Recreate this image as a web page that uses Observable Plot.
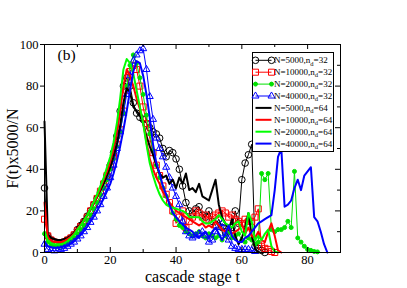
<!DOCTYPE html>
<html><head><meta charset="utf-8">
<script src="https://cdn.jsdelivr.net/npm/d3@7"></script>
<script src="https://cdn.jsdelivr.net/npm/@observablehq/plot@0.6"></script>
<style>
html,body{margin:0;padding:0;background:#fff;}
#wrap{position:relative;width:407px;height:288px;overflow:hidden;}
#wrap svg{display:block;}
</style></head><body><div id="wrap"></div>
<script>
// ---- data (value per cascade stage t = 0,1,2,...) ----
const n5000d32 = [31,8,6,5,4.5,4.5,5,6,7,8.5, 11,13,15,17.5,20,23,26,29,33,37, 42,48,56,68,80,84,80,72,67,65, 64,62,60,58,57,55,50,46,49,48, 45,40,32,24,20,19,21,22,18,17, 20,15,13,16,12,10,8,12,20,14, 35,43,47,52,3,2,1,0];
const n10000d32 = [16,8,6,5,4.5,4.5,5,6,7,8.5, 10.5,12.5,14.5,17,20,23,26,29.5,33,37, 41,46,52,59,68,78,87,90,88,80, 70,62,55,48,42,37,32,28,24,20, 14,17,20,12,15,17,20,19,17,18, 16,17,18,19,20,19,17,18,16,15, 14,16,15,15,17,21,3,2,1.5,0.5,0];
const n20000d32 = [9,5,3.5,3,3,3,3.5,4.5,5.5,7, 9,11,13,15.5,18,21,24,27.5,31,35, 40,45,51,58,67,80,90,95,91,84, 76,66,57,49,42,36,31,27,23,19, 16,13,12,10,9,8,9,10,8,7, 9,8,7,8,6,8,10,7,8,9, 6,5,7,6,4,5,38,35,38,11, 10,11,11,12,15,12,39,7,5,3, 1.5,1,0.5,0.3];
const n40000d32 = [4,1.5,1,0.8,1,1.5,2,3,4,5, 6.5,8,10,12,14.5,17,20,23,27,31, 36,42,50,58,67,76,85,92,95,97, 98,88,75,64,55,50,46,41,36,31, 27,23,15,10,8,7,8,9,10,8, 5,6,10,12,14,9,6,3,2,1.5, 1.5,1.5,1.5,1,0.5];
const n5000d64 = [63,9,7,6.5,6,6,6.5,7,8,9.5, 12,14,16,18.5,21,24,27,30,33,37, 41,46,52,61,72,79,77,70,68,66, 62,56,51,47,42,38,36,37,33,35, 31,36,33,38,30,31,29,33,27,26, 25,30,35,23,17,14,11,16,8,4, 7,12,19,8,2,0];
const n10000d64 = [24,7,5.5,5,5,5,5.5,6.5,7.5,9, 11.5,13.5,15.5,18,21,24,27,31,35,39, 44,50,58,68,80,88,85,80,74,69, 63,53,45,40,36,33,29,27,24,22, 20,19,18,17,16,15,14,13,14,12, 13,12,15,13,11,10,12,9,10,11, 14,9,12,8,7,10,6,5,10,14, 8,1,0];
const n20000d64 = [10,6,4.5,4,4,4,4.5,5.5,7,8.5, 11,13,15.5,18,21,24.5,28,32,36,41, 46,53,62,74,88,93,91,86,78,70, 62,52,43,37,32,28,25,23,22,21.5, 21,20.5,20,19,17,17,17,17,15,14, 14,15,16,18,16,14,13,12,14,15, 10,8,19,15,6,8,6,9,11,3, 0.5,0];
const n40000d64 = [5,3,2.5,2.3,2.3,2.5,3,3.5,4.5,5.5, 7,8.5,10.5,12.5,15,17.5,20,23,26,29.5, 33,38,44,51,59,68,78,87,92,91, 85,76,65,52,43,38,32,28,23,19, 17,15,13.5,12,11,10,8,7,9,10, 7,10,12,9,6,9,13,8,6,5, 5,7,8,10,12,14,15,16,17,18, 30,46,50,22,23,25,31,35,30,37, 39,41,17,15,10,4,0];

const xTicks = [0,20,40,60,80];
const xMinor = [10,30,50,70];
const yTicks = [0,20,40,60,80,100];
const yMinor = [10,30,50,70,90];

const legendLabels = [
  ["N=5000,n","d","=32"],["N=10000,n","d","=32"],["N=20000,n","d","=32"],["N=40000,n","d","=32"],
  ["N=5000,n","d","=64"],["N=10000,n","d","=64"],["N=20000,n","d","=64"],["N=40000,n","d","=64"]
];

const FONT = '"Liberation Serif","Times New Roman",serif';

// ---- series styling ----
const series = [
  {v:n5000d32,  color:"#000000", w:1, sym:"circle",   r:3.3, fill:"none"},
  {v:n10000d32, color:"#ff0000", w:1, sym:"square",   r:3.4, fill:"none"},
  {v:n20000d32, color:"#00e000", w:1, sym:"circle",   r:2,   fill:"#00e000"},
  {v:n40000d32, color:"#0000ff", w:1, sym:"triangle", r:2.6, fill:"none"},
  {v:n5000d64,  color:"#000000", w:2, sym:null},
  {v:n10000d64, color:"#ff0000", w:2, sym:null},
  {v:n20000d64, color:"#00ff00", w:2, sym:null},
  {v:n40000d64, color:"#0000ff", w:2, sym:null}
];
const rows = s => s.v.map((v,t)=>({t,v}));

const marks = [];
series.forEach(s=>{
  const d = rows(s);
  marks.push(Plot.line(d,{x:"t",y:"v",stroke:s.color,strokeWidth:s.w}));
  if (s.sym) marks.push(Plot.dot(d,{x:"t",y:"v",symbol:s.sym,r:s.r,stroke:s.color,fill:s.fill,strokeWidth:1}));
});

const W=407,H=288,ML=44,MR=67,MT=44,MB=36;
const innerW=W-ML-MR, innerH=H-MT-MB;

const chart = Plot.plot({
  width:W,height:H,marginLeft:ML,marginRight:MR,marginTop:MT,marginBottom:MB,
  style:{fontFamily:FONT,color:"#000",background:"#fff",overflow:"visible"},
  x:{domain:[0,90]},
  y:{domain:[0,100]},
  marks:[
    ...marks,
    Plot.frame({stroke:"#000",strokeWidth:1}),
    Plot.tickX(xTicks,{x:d=>d,insetTop:innerH-5,stroke:"#000"}),
    Plot.tickX(xMinor,{x:d=>d,insetTop:innerH-3,stroke:"#000"}),
    Plot.tickX(xTicks,{x:d=>d,insetBottom:innerH-5,stroke:"#000"}),
    Plot.tickX(xMinor,{x:d=>d,insetBottom:innerH-3,stroke:"#000"}),
    Plot.tickY(yTicks,{y:d=>d,insetLeft:innerW-5,stroke:"#000"}),
    Plot.tickY(yMinor,{y:d=>d,insetLeft:innerW-3,stroke:"#000"}),
    Plot.axisX({ticks:xTicks,tickSize:0,tickPadding:3,fontSize:12.5,label:null}),
    Plot.axisY({ticks:yTicks,tickSize:4,tickPadding:2,fontSize:12.5,label:null}),
    Plot.axisX({ticks:[],tickSize:0,label:"cascade stage t",labelAnchor:"center",labelArrow:"none",labelOffset:29,fontSize:16}),
    Plot.axisY({ticks:[],tickSize:0,label:"F(t)x5000/N",labelAnchor:"center",labelArrow:"none",labelOffset:38,fontSize:16}),
    Plot.text(["(b)"],{frameAnchor:"top-left",dx:13,dy:4,fontSize:15.5,textAnchor:"start",lineAnchor:"top"})
  ]
});
const wrap = document.getElementById("wrap");
wrap.appendChild(chart);

// ---- legend (drawn into the chart's svg, top-right inside the frame) ----
const LX=252.5, LY=52.5, LW=81, LH=99, rowH=11.9, y0=7.8;
const lg = d3.select(chart).append("g").attr("transform",`translate(${LX},${LY})`)
  .attr("font-family",FONT).attr("font-size",9).attr("text-anchor","start");
lg.append("rect").attr("x",0).attr("y",0).attr("width",LW).attr("height",LH).attr("fill","#fff").attr("stroke","#000");
const symMap={circle:d3.symbolCircle,square:d3.symbolSquare,triangle:d3.symbolTriangle};
series.forEach((s,i)=>{
  const y = y0 + i*rowH;
  const g = lg.append("g");
  g.append("line").attr("x1",3).attr("x2",19).attr("y1",y).attr("y2",y).attr("stroke",s.color).attr("stroke-width",s.w);
  if (s.sym){
    const p = d3.symbol(symMap[s.sym], Math.PI*s.r*s.r)();
    [3,19].forEach(x=>g.append("path").attr("d",p).attr("transform",`translate(${x},${y})`)
      .attr("stroke",s.color).attr("fill",s.fill).attr("stroke-width",1));
  }
  const lab = legendLabels[i];
  const tx = g.append("text").attr("x",21.5).attr("y",y+3).attr("fill","#000").attr("text-anchor","start");
  tx.append("tspan").text(lab[0]);
  tx.append("tspan").attr("font-size",6.5).attr("dy",2.2).text(lab[1]);
  tx.append("tspan").attr("dy",-2.2).text(lab[2]);
});
</script>
</body></html>
